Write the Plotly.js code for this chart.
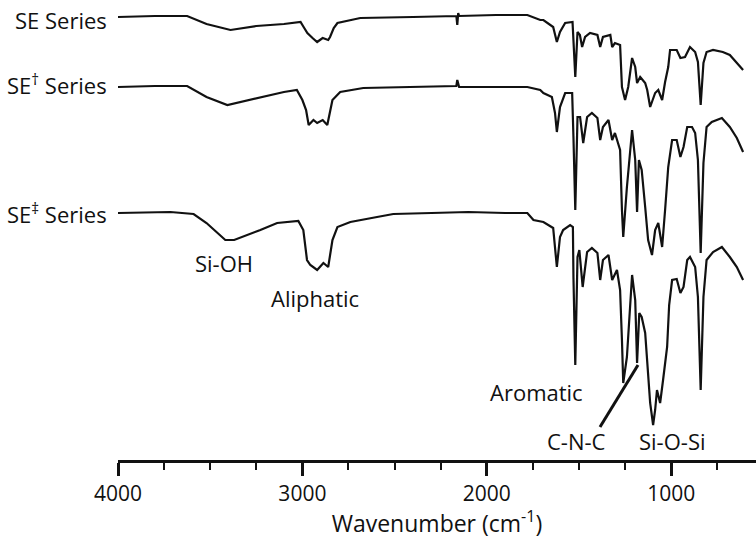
<!DOCTYPE html>
<html>
<head>
<meta charset="utf-8">
<script src="https://cdn.plot.ly/plotly-3.0.1.min.js"></script>
<style>html,body{margin:0;padding:0;background:#fff;}#chart{width:756px;height:539px;}</style>
</head>
<body>
<div id="chart"></div>
<script>
// Wavenumber (cm-1) and offset signal (arbitrary units, larger = lower on the stacked plot)
const seWave = [4000,3800,3625,3520,3390,3250,3100,3010,2990,2973,2945,2920,2890,2860,2850,2830,2810,2686,2400,2200,2165,2160,2155,2150,1950,1780,1710,1693,1640,1620,1603,1575,1535,1520,1508,1495,1483,1467,1440,1400,1385,1370,1330,1320,1305,1277,1267,1250,1233,1212,1195,1185,1168,1141,1130,1114,1087,1070,1049,1033,1016,1006,970,950,925,898,870,855,840,825,808,773,720,682,644,610];
const seVal  = [17,16,16,24,30,26,24,22,28,33,38,42,38,40,37,28,23,18,17,16,16,25,13,16,15,15,20,20,27,42,32,23,22,77,32,35,47,37,33,35,47,37,35,47,43,45,87,100,87,58,67,83,77,83,90,107,93,90,100,82,67,50,50,58,57,47,52,62,105,63,52,50,52,55,63,70];

const seDagWave = [4000,3800,3625,3520,3407,3250,3100,3030,3000,2980,2966,2940,2920,2890,2865,2837,2795,2670,2400,2200,2165,2160,2150,1950,1780,1710,1693,1647,1630,1620,1603,1575,1537,1530,1520,1508,1494,1477,1456,1430,1400,1385,1370,1340,1320,1305,1277,1267,1260,1240,1223,1212,1195,1185,1175,1160,1141,1125,1104,1087,1070,1049,1033,1016,995,970,950,933,913,887,870,855,840,825,808,780,725,682,644,610];
const seDagVal  = [87,86,86,97,105,98,92,90,100,110,125,120,123,120,125,100,92,88,87,86,86,80,87,87,87,90,93,97,113,132,107,93,93,137,210,117,117,143,117,113,118,140,127,120,140,133,150,210,237,187,150,130,160,212,160,170,207,240,255,230,223,247,210,167,140,140,157,147,127,127,133,160,253,163,127,122,118,127,138,152];

const seDdagWave = [4000,3716,3590,3520,3418,3370,3228,3137,3022,2995,2975,2957,2920,2886,2860,2837,2810,2740,2595,2507,2300,2100,1900,1780,1747,1693,1640,1620,1603,1586,1548,1533,1530,1520,1508,1498,1480,1456,1430,1400,1385,1370,1340,1320,1294,1277,1267,1260,1240,1223,1212,1195,1185,1173,1160,1141,1130,1114,1098,1087,1077,1060,1044,1022,1011,995,970,950,933,913,898,870,855,840,825,808,773,725,682,644,610];
const seDdagVal  = [213,212,214,223,240,240,230,223,221,230,260,265,270,263,267,240,227,222,217,214,213,212,213,213,220,222,228,267,237,230,225,227,277,365,257,250,287,252,248,253,280,260,255,280,270,290,340,383,357,307,275,300,363,313,317,333,363,403,425,410,390,403,380,347,305,280,279,293,287,260,257,267,297,390,297,260,252,247,257,267,280];

const seriesNames = ["SE Series", "SE<sup>†</sup> Series", "SE<sup>‡</sup> Series"];
const seriesLabelY = [20, 84, 213];
const tickVals = [4000, 3000, 2000, 1000];
const tickText = ["4000", "3000", "2000", "1000"];
const bandLabels = ["Si-OH", "Aliphatic", "Aromatic", "C-N-C", "Si-O-Si"];
const bandX = [3423, 2931, 1733, 1511, 991];
const bandY = [263, 298, 392, 441, 441];

const FONT = "Open Sans, Noto Sans, sans-serif";
const lineStyle = {color: "#111", width: 2.2};

const traces = [
  {x: seWave, y: seVal, type: "scatter", mode: "lines", line: lineStyle, name: seriesNames[0], hoverinfo: "skip"},
  {x: seDagWave, y: seDagVal, type: "scatter", mode: "lines", line: lineStyle, name: seriesNames[1], hoverinfo: "skip"},
  {x: seDdagWave, y: seDdagVal, type: "scatter", mode: "lines", line: lineStyle, name: seriesNames[2], hoverinfo: "skip"}
];

const annotations = [];
seriesNames.forEach((t, i) => annotations.push({
  x: 4000, y: seriesLabelY[i], xref: "x", yref: "y", text: t, showarrow: false,
  xanchor: "right", yanchor: "middle", xshift: -9, font: {family: FONT, size: 22, color: "#111"}
}));
bandLabels.forEach((t, i) => annotations.push({
  x: bandX[i], y: bandY[i], xref: "x", yref: "y", text: t, showarrow: false,
  xanchor: "center", yanchor: "middle", font: {family: FONT, size: 22, color: "#111"}
}));

const layout = {
  width: 756, height: 539,
  margin: {l: 118, r: 0, t: 0, b: 79},
  paper_bgcolor: "#fff", plot_bgcolor: "#fff",
  showlegend: false,
  font: {family: FONT, color: "#111"},
  xaxis: {
    range: [4000, 540], showgrid: false, zeroline: false,
    showline: true, linecolor: "#111", linewidth: 3,
    ticks: "outside", ticklen: 13, tickwidth: 3, tickcolor: "#111",
    tickvals: tickVals, ticktext: tickText,
    tickfont: {family: FONT, size: 21, color: "#111"},
    minor: {dtick: 250, tick0: 0, ticks: "outside", ticklen: 7, tickwidth: 2, tickcolor: "#111", showgrid: false},
    title: {text: "Wavenumber (cm<sup>-1</sup>)", font: {family: FONT, size: 23, color: "#111"}, standoff: 6}
  },
  yaxis: {range: [460, 0], visible: false, showgrid: false, zeroline: false},
  annotations: annotations,
  shapes: [{type: "line", xref: "x", yref: "y", x0: 1386, y0: 427, x1: 1180, y1: 365, line: {color: "#111", width: 3}}]
};

Plotly.newPlot("chart", traces, layout, {staticPlot: true, displayModeBar: false});
</script>
</body>
</html>
